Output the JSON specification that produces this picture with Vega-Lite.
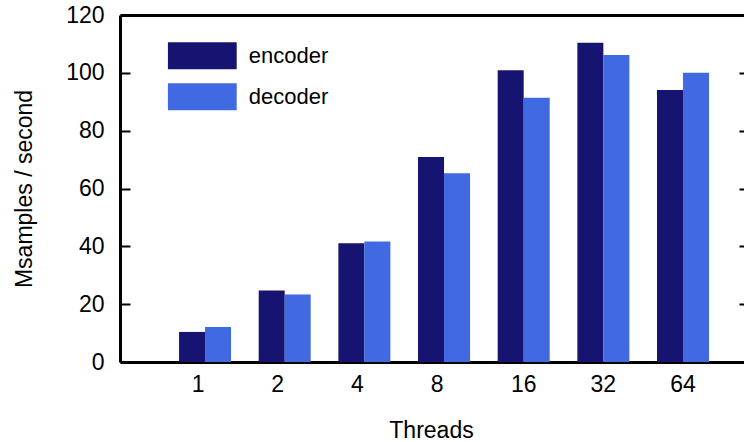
{
  "$schema": "https://vega.github.io/schema/vega-lite/v6.json",
  "autosize": "none",
  "padding": {"left": 120, "top": 15, "right": 0, "bottom": 80},
  "width": 624,
  "height": 347,
  "background": "white",
  "config": {
    "view": {"stroke": null},
    "font": "Liberation Sans",
    "axis": {
      "grid": false,
      "labelColor": "black",
      "titleColor": "black",
      "domainColor": "black",
      "tickColor": "black",
      "labelFont": "Liberation Sans",
      "titleFont": "Liberation Sans",
      "labelFontSize": 23,
      "titleFontSize": 23,
      "titleFontWeight": "normal"
    },
    "legend": {"labelFont": "Liberation Sans"}
  },
  "data": {
    "values": [
      {"threads": "1", "codec": "encoder", "msps": 10.4},
      {"threads": "1", "codec": "decoder", "msps": 12.1},
      {"threads": "2", "codec": "encoder", "msps": 24.7},
      {"threads": "2", "codec": "decoder", "msps": 23.3},
      {"threads": "4", "codec": "encoder", "msps": 41.1},
      {"threads": "4", "codec": "decoder", "msps": 41.7},
      {"threads": "8", "codec": "encoder", "msps": 70.9},
      {"threads": "8", "codec": "decoder", "msps": 65.3},
      {"threads": "16", "codec": "encoder", "msps": 100.9},
      {"threads": "16", "codec": "decoder", "msps": 91.4},
      {"threads": "32", "codec": "encoder", "msps": 110.4},
      {"threads": "32", "codec": "decoder", "msps": 106.2},
      {"threads": "64", "codec": "encoder", "msps": 94.1},
      {"threads": "64", "codec": "decoder", "msps": 100.0}
    ]
  },
  "layer": [
    {
      "mark": {"type": "bar"},
      "encoding": {
        "x": {
          "field": "threads",
          "type": "ordinal",
          "sort": ["1", "2", "4", "8", "16", "32", "64"],
          "scale": {"paddingInner": 0.347, "paddingOuter": 0.59, "align": 0.628},
          "axis": {
            "orient": "bottom",
            "labelAngle": 0,
            "ticks": false,
            "domainWidth": 3,
            "labelPadding": 11,
            "labelOffset": {"expr": "length(datum.label) == 1 ? -7 : 0"},
            "title": "Threads",
            "titleX": 311,
            "titleY": 75,
            "titleAlign": "center",
            "titleBaseline": "alphabetic"
          }
        },
        "xOffset": {
          "field": "codec",
          "sort": ["encoder", "decoder"],
          "scale": {"paddingInner": 0, "paddingOuter": 0}
        },
        "y": {
          "field": "msps",
          "type": "quantitative",
          "scale": {"domain": [0, 120], "nice": false},
          "axis": {
            "orient": "left",
            "values": [0, 20, 40, 60, 80, 100, 120],
            "domainWidth": 3,
            "tickSize": -10,
            "tickWidth": 2,
            "labelPadding": 26,
            "title": "Msamples / second",
            "titleAngle": 270,
            "titleX": -88.5,
            "titleY": 173.5,
            "titleAlign": "center",
            "titleBaseline": "alphabetic"
          }
        },
        "color": {
          "field": "codec",
          "type": "nominal",
          "scale": {"domain": ["encoder", "decoder"], "range": ["#161470", "#4169e1"]},
          "legend": {
            "orient": "none",
            "legendX": 47.7,
            "legendY": 20.6,
            "title": null,
            "symbolType": "M-1,-0.391L1,-0.391L1,0.391L-1,0.391Z",
            "symbolSize": 4761,
            "symbolStrokeWidth": 0,
            "symbolOpacity": 1,
            "labelFontSize": 22,
            "labelColor": "black",
            "labelOffset": 12,
            "clipHeight": 40.4,
            "rowPadding": 0
          }
        }
      }
    },
    {
      "mark": {"type": "bar", "opacity": 0},
      "encoding": {
        "x": {
          "field": "threads",
          "type": "ordinal",
          "sort": ["1", "2", "4", "8", "16", "32", "64"],
          "axis": {
            "orient": "top",
            "labels": false,
            "ticks": false,
            "domainWidth": 3,
            "title": null
          }
        },
        "xOffset": {"field": "codec", "sort": ["encoder", "decoder"]},
        "y": {
          "field": "msps",
          "type": "quantitative",
          "axis": {
            "orient": "right",
            "values": [20, 40, 60, 80, 100],
            "domain": false,
            "labels": false,
            "tickSize": -5,
            "tickWidth": 2,
            "title": null
          }
        }
      }
    }
  ],
  "resolve": {"axis": {"x": "independent", "y": "independent"}}
}
